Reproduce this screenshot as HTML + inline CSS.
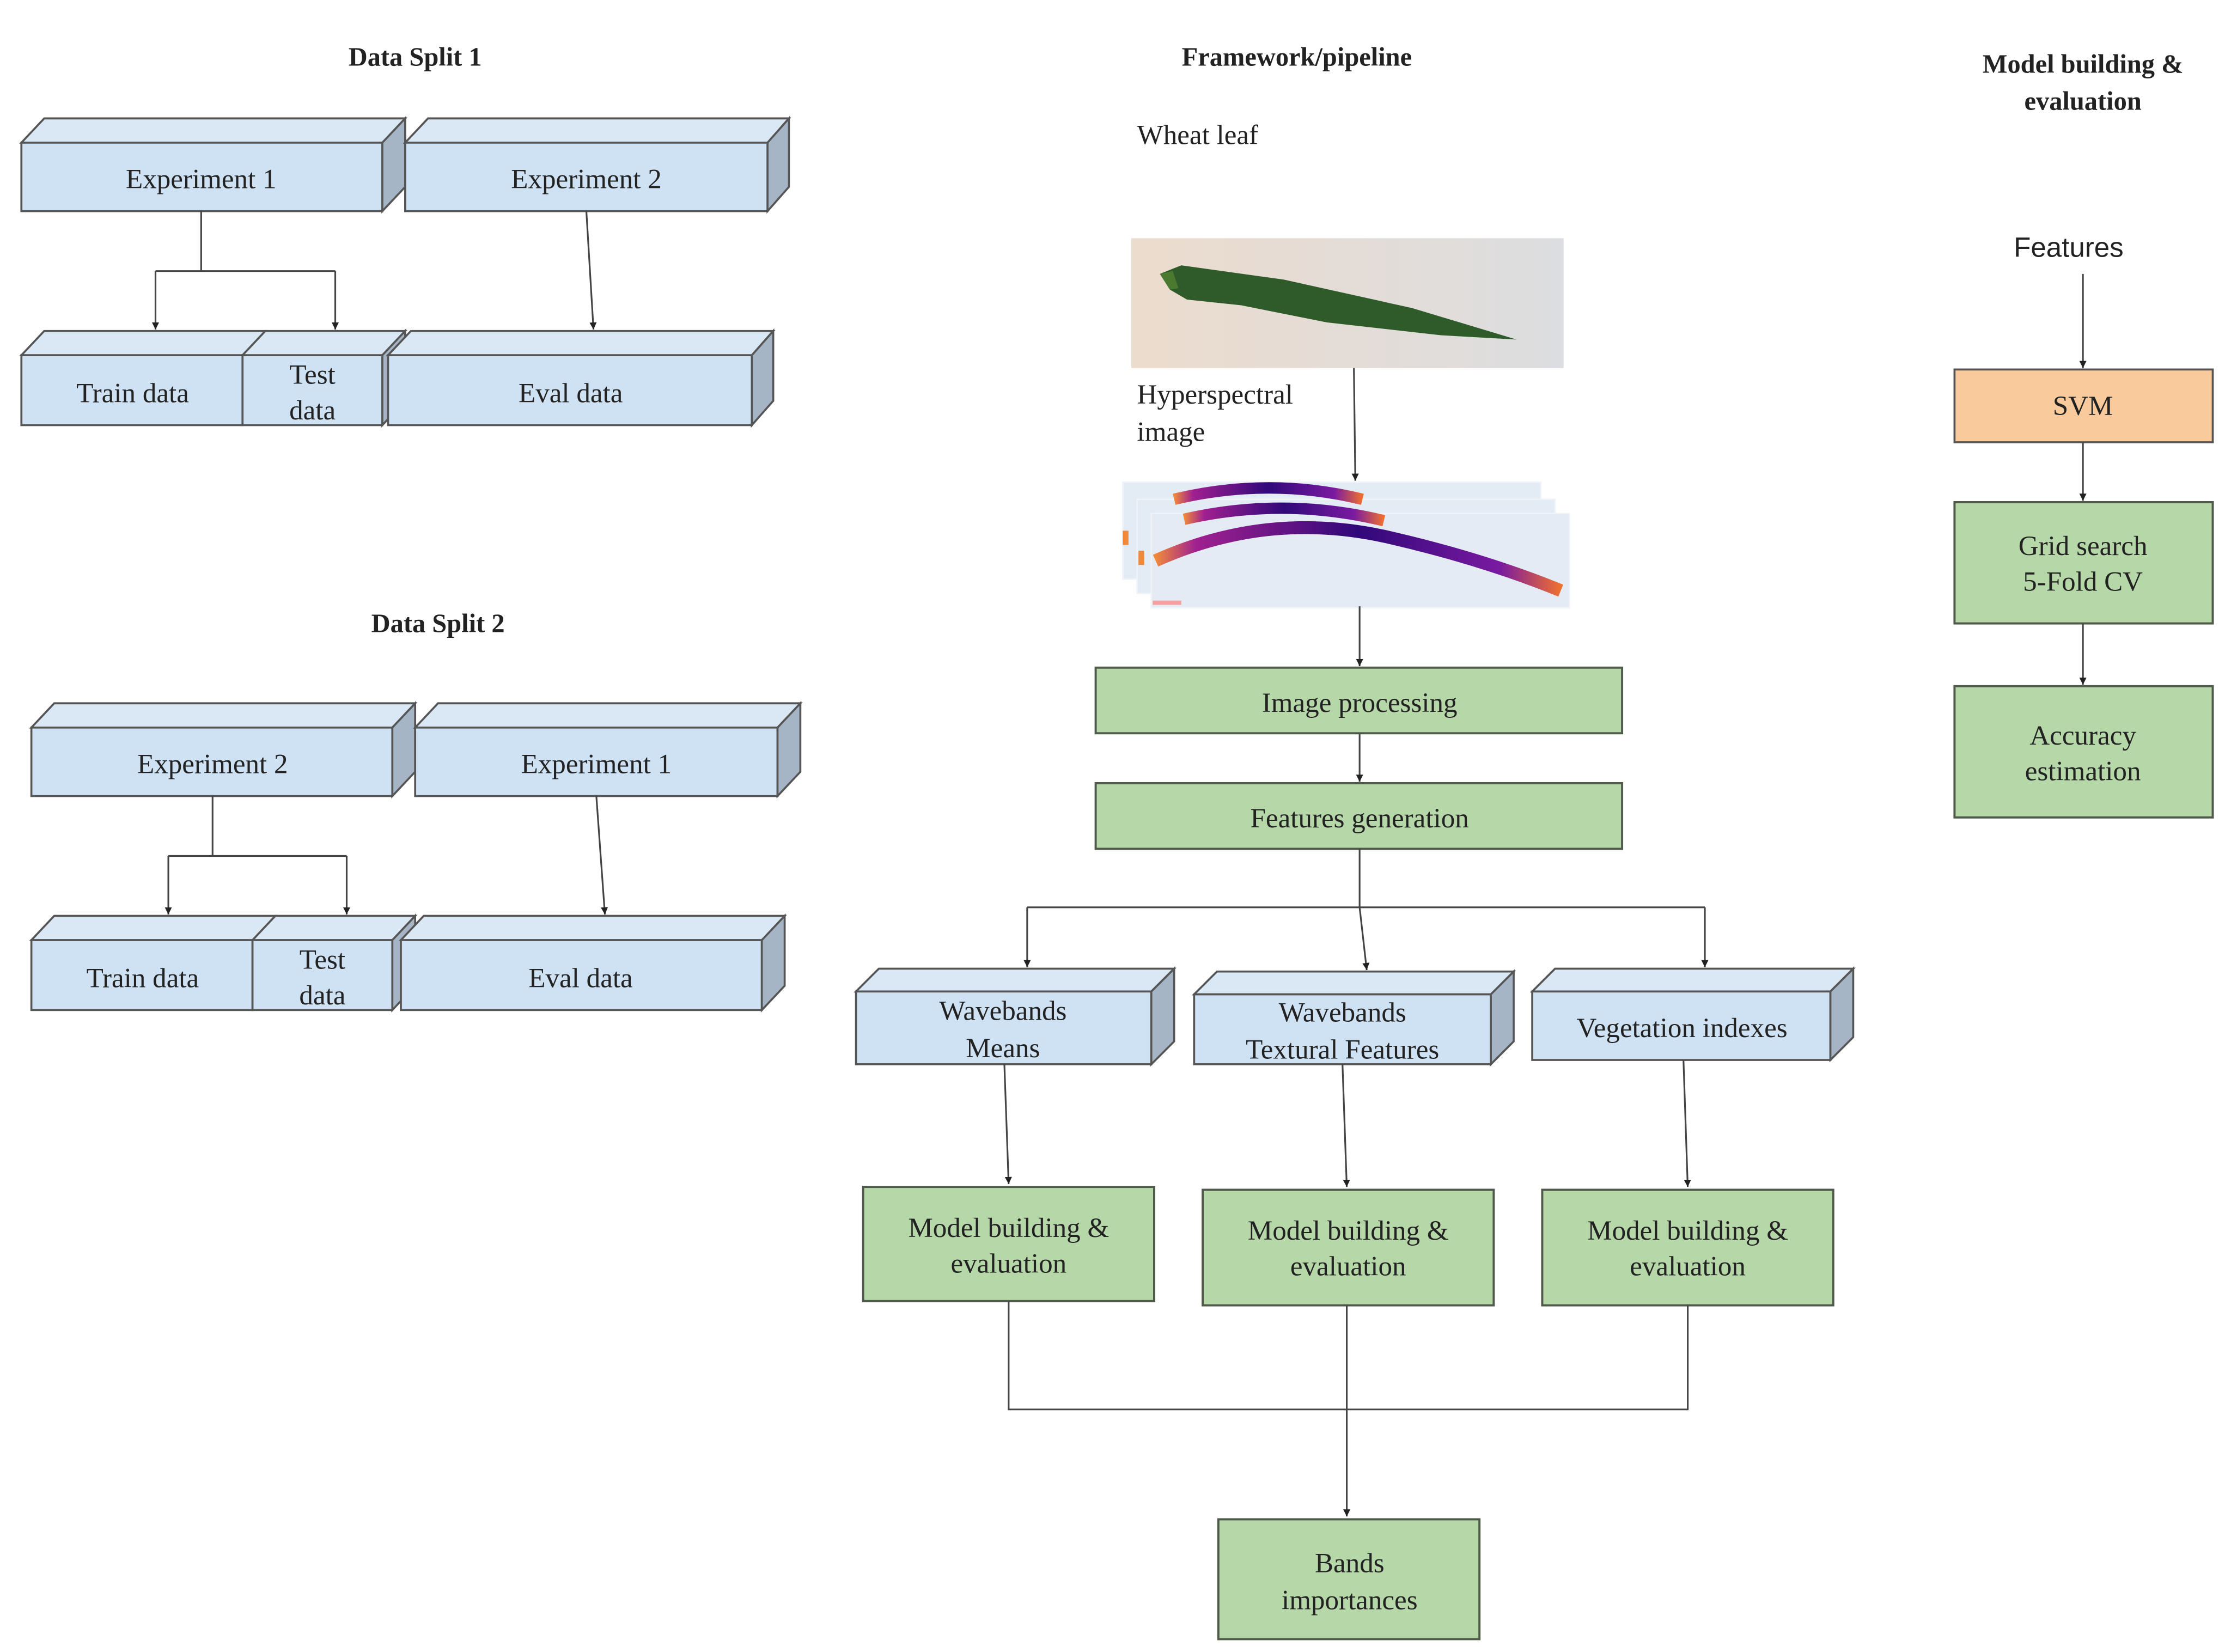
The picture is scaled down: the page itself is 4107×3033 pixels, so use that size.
<!DOCTYPE html>
<html><head><meta charset="utf-8"><style>
html,body{margin:0;padding:0;background:#fff;}
svg{display:block;}
text{font-family:"Liberation Serif",serif;fill:#222;}
.t{font-size:19.5px;text-anchor:middle;}
.b{font-size:18.5px;font-weight:bold;text-anchor:middle;}
.f{fill:#cfe2f3;stroke:#555;stroke-width:1.4;}
.tp{fill:#dae8f6;stroke:#555;stroke-width:1.4;}
.sd{fill:#a6b5c5;stroke:#555;stroke-width:1.4;}
.g{fill:#b6d7a8;stroke:#4f5a4a;stroke-width:1.5;}
.ln{stroke:#444;stroke-width:1.2;fill:none;}
</style></head><body>
<svg width="4107" height="3033" viewBox="0 0 1568 1158" preserveAspectRatio="none" xmlns="http://www.w3.org/2000/svg">
<defs>
<marker id="ar" viewBox="0 0 10 10" refX="10" refY="5" markerWidth="5" markerHeight="6" orient="auto" markerUnits="userSpaceOnUse"><path d="M0,0 L10,5 L0,10 z" fill="#222"/></marker>
<linearGradient id="bg" x1="0" x2="1" y1="0" y2="0"><stop offset="0" stop-color="#ecdccd"/><stop offset="1" stop-color="#dcdde0"/></linearGradient>
<linearGradient id="hs" x1="0" x2="1"><stop offset="0" stop-color="#f08a3a"/><stop offset="0.1" stop-color="#a02090"/><stop offset="0.5" stop-color="#30087a"/><stop offset="0.85" stop-color="#7a1aa0"/><stop offset="1" stop-color="#f07030"/></linearGradient>
</defs>

<text class="b" x="291" y="46">Data Split 1</text>
<text class="b" x="909" y="46">Framework/pipeline</text>
<text class="b" x="1460" y="51">Model building &amp;</text>
<text class="b" x="1460" y="77">evaluation</text>
<text class="b" x="307" y="443">Data Split 2</text>

<polygon class="tp" points="15,100 31,83 284,83 268,100"/><rect class="f" x="15" y="100" width="253" height="48"/><polygon class="sd" points="268,100 284,83 284,131 268,148"/>
<text class="t" x="141" y="132">Experiment 1</text>
<polygon class="tp" points="284,100 300,83 553,83 538,100"/><rect class="f" x="284" y="100" width="254" height="48"/><polygon class="sd" points="538,100 553,83 553,131 538,148"/>
<text class="t" x="411" y="132">Experiment 2</text>
<polygon class="tp" points="15,249 31,232 186,232 170,249"/><rect class="f" x="15" y="249" width="155" height="49"/>
<text class="t" x="93" y="282">Train data</text>
<polygon class="tp" points="170,249 186,232 284,232 268,249"/><rect class="f" x="170" y="249" width="98" height="49"/><polygon class="sd" points="268,249 284,232 284,281 268,298"/>
<text class="t" x="219" y="269">Test</text><text class="t" x="219" y="294">data</text>
<polygon class="tp" points="272,249 288,232 542,232 527,249"/><rect class="f" x="272" y="249" width="255" height="49"/><polygon class="sd" points="527,249 542,232 542,281 527,298"/>
<text class="t" x="400" y="282">Eval data</text>
<path class="ln" d="M141,148 V190 M109,190 H235"/>
<path class="ln" d="M109,190 V231" marker-end="url(#ar)"/><path class="ln" d="M235,190 V231" marker-end="url(#ar)"/>
<path class="ln" d="M411,148 L416,231" marker-end="url(#ar)"/>

<polygon class="tp" points="22,510 38,493 291,493 275,510"/><rect class="f" x="22" y="510" width="253" height="48"/><polygon class="sd" points="275,510 291,493 291,541 275,558"/>
<text class="t" x="149" y="542">Experiment 2</text>
<polygon class="tp" points="291,510 307,493 561,493 545,510"/><rect class="f" x="291" y="510" width="254" height="48"/><polygon class="sd" points="545,510 561,493 561,541 545,558"/>
<text class="t" x="418" y="542">Experiment 1</text>
<polygon class="tp" points="22,659 38,642 193,642 177,659"/><rect class="f" x="22" y="659" width="155" height="49"/>
<text class="t" x="100" y="692">Train data</text>
<polygon class="tp" points="177,659 193,642 291,642 275,659"/><rect class="f" x="177" y="659" width="98" height="49"/><polygon class="sd" points="275,659 291,642 291,691 275,708"/>
<text class="t" x="226" y="679">Test</text><text class="t" x="226" y="704">data</text>
<polygon class="tp" points="281,659 297,642 550,642 534,659"/><rect class="f" x="281" y="659" width="253" height="49"/><polygon class="sd" points="534,659 550,642 550,691 534,708"/>
<text class="t" x="407" y="692">Eval data</text>
<path class="ln" d="M149,558 V600 M118,600 H243"/>
<path class="ln" d="M118,600 V641" marker-end="url(#ar)"/><path class="ln" d="M243,600 V641" marker-end="url(#ar)"/>
<path class="ln" d="M418,558 L424,641" marker-end="url(#ar)"/>

<text x="797" y="101" style="font-size:19.5px">Wheat leaf</text>
<rect x="793" y="167" width="303" height="91" fill="url(#bg)"/>
<path d="M813,192 L828,186 L900,196 L990,216 L1063,238 L1010,235 L930,226 L870,214 L832,210 L820,203 Z" fill="#2f5a2a"/>
<path d="M813,192 L822,190 L826,202 L820,203 Z" fill="#4a7a30"/>
<text x="797" y="283" style="font-size:19.5px">Hyperspectral</text>
<text x="797" y="309" style="font-size:19.5px">image</text>
<path class="ln" d="M949,258 L950,337" marker-end="url(#ar)"/>
<rect x="787" y="338" width="293" height="68" fill="#e3ebf5" stroke="#f0f3f8"/>
<rect x="797" y="350" width="293" height="66" fill="#e3ebf5" stroke="#f0f3f8"/>
<rect x="807" y="360" width="293" height="66" fill="#e4ebf5" stroke="#f0f3f8"/>
<path d="M823,350 Q890,334 955,350" stroke="url(#hs)" stroke-width="8" fill="none"/>
<path d="M830,364 Q900,348 970,365" stroke="url(#hs)" stroke-width="8" fill="none"/>
<path d="M810,393 Q890,357 975,377 Q1040,392 1094,414" stroke="url(#hs)" stroke-width="9" fill="none"/>
<rect x="787" y="372" width="4" height="10" fill="#f08a3a"/>
<rect x="798" y="386" width="4" height="10" fill="#f08a3a"/>
<rect x="808" y="421" width="20" height="3" fill="#f4a0a0"/>
<path class="ln" d="M953,425 V467" marker-end="url(#ar)"/>
<rect class="g" x="768" y="468" width="369" height="46"/><text class="t" x="953" y="499">Image processing</text>
<path class="ln" d="M953,514 V548" marker-end="url(#ar)"/>
<rect class="g" x="768" y="549" width="369" height="46"/><text class="t" x="953" y="580">Features generation</text>
<path class="ln" d="M953,595 V636 M720,636 H1195"/>
<path class="ln" d="M720,636 V678" marker-end="url(#ar)"/>
<path class="ln" d="M953,636 L958,680" marker-end="url(#ar)"/>
<path class="ln" d="M1195,636 V678" marker-end="url(#ar)"/>

<polygon class="tp" points="600,695 616,679 823,679 807,695"/><rect class="f" x="600" y="695" width="207" height="51"/><polygon class="sd" points="807,695 823,679 823,730 807,746"/>
<text class="t" x="703" y="715">Wavebands</text><text class="t" x="703" y="741">Means</text>
<polygon class="tp" points="837,697 853,681 1061,681 1045,697"/><rect class="f" x="837" y="697" width="208" height="49"/><polygon class="sd" points="1045,697 1061,681 1061,730 1045,746"/>
<text class="t" x="941" y="716">Wavebands</text><text class="t" x="941" y="742">Textural Features</text>
<polygon class="tp" points="1074,695 1090,679 1299,679 1283,695"/><rect class="f" x="1074" y="695" width="209" height="48"/><polygon class="sd" points="1283,695 1299,679 1299,727 1283,743"/>
<text class="t" x="1179" y="727">Vegetation indexes</text>

<path class="ln" d="M704,746 L707,830" marker-end="url(#ar)"/>
<path class="ln" d="M941,746 L944,832" marker-end="url(#ar)"/>
<path class="ln" d="M1180,743 L1183,832" marker-end="url(#ar)"/>
<rect class="g" x="605" y="832" width="204" height="80"/><text class="t" x="707" y="867">Model building &amp;</text><text class="t" x="707" y="892">evaluation</text>
<rect class="g" x="843" y="834" width="204" height="81"/><text class="t" x="945" y="869">Model building &amp;</text><text class="t" x="945" y="894">evaluation</text>
<rect class="g" x="1081" y="834" width="204" height="81"/><text class="t" x="1183" y="869">Model building &amp;</text><text class="t" x="1183" y="894">evaluation</text>
<path class="ln" d="M707,912 V988 H1183 V915"/>
<path class="ln" d="M944,915 V1063" marker-end="url(#ar)"/>
<rect class="g" x="854" y="1065" width="183" height="84"/><text class="t" x="946" y="1102">Bands</text><text class="t" x="946" y="1128">importances</text>

<text x="1450" y="180" style="font-family:'Liberation Sans',sans-serif;font-size:19.5px;text-anchor:middle;fill:#222">Features</text>
<path class="ln" d="M1460,192 V258" marker-end="url(#ar)"/>
<rect x="1370" y="259" width="181" height="51" fill="#f9cb9c" stroke="#555" stroke-width="1.4"/><text class="t" x="1460" y="291">SVM</text>
<path class="ln" d="M1460,310 V351" marker-end="url(#ar)"/>
<rect class="g" x="1370" y="352" width="181" height="85"/><text class="t" x="1460" y="389">Grid search</text><text class="t" x="1460" y="414">5-Fold CV</text>
<path class="ln" d="M1460,437 V480" marker-end="url(#ar)"/>
<rect class="g" x="1370" y="481" width="181" height="92"/><text class="t" x="1460" y="522">Accuracy</text><text class="t" x="1460" y="547">estimation</text>
</svg>
</body></html>
